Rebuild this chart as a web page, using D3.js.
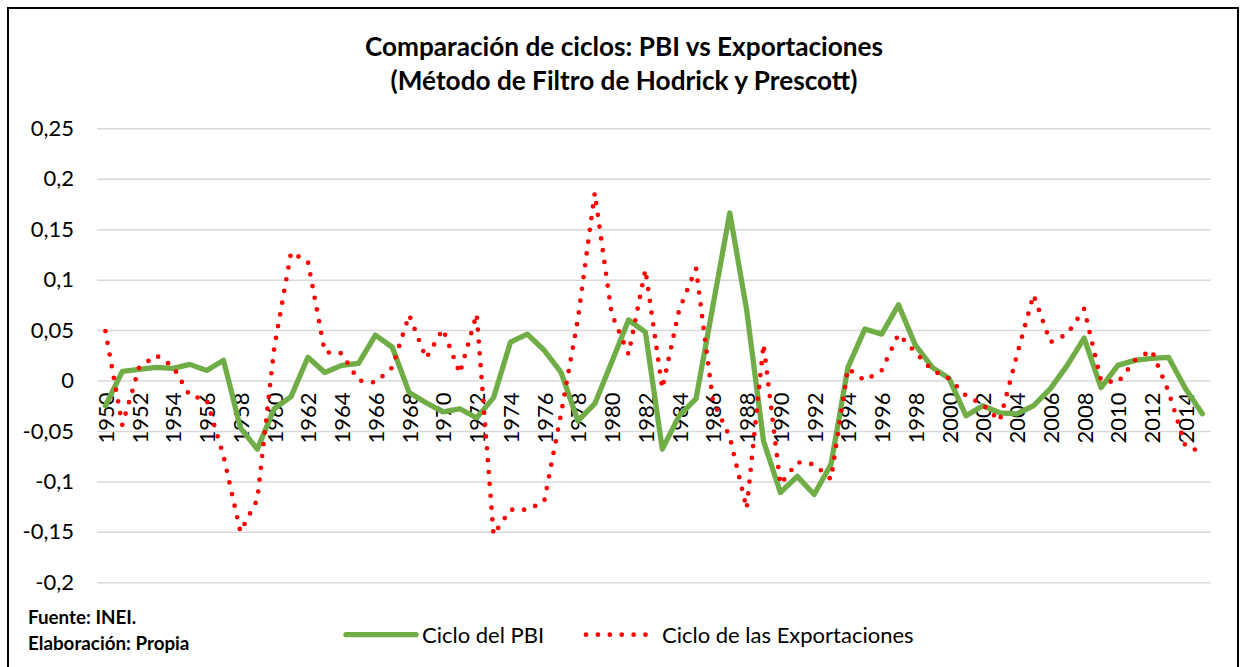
<!DOCTYPE html>
<html>
<head>
<meta charset="utf-8">
<script src="https://cdn.jsdelivr.net/npm/d3@7"></script>
<style>
  body { margin: 0; background: #fff; }
  svg { display: block; font-family: Lato, "Open Sans", sans-serif; }
</style>
</head>
<body>
<svg id="chart"></svg>
<script>
const WIDTH = 1242;
const HEIGHT = 667;
const PLOT = { left: 97, right: 1210.7, top: 128.3, bottom: 582.3 };

// years 1950..2015
const years = [
  1950, 1951, 1952, 1953, 1954, 1955, 1956, 1957, 1958, 1959,
  1960, 1961, 1962, 1963, 1964, 1965, 1966, 1967, 1968, 1969,
  1970, 1971, 1972, 1973, 1974, 1975, 1976, 1977, 1978, 1979,
  1980, 1981, 1982, 1983, 1984, 1985, 1986, 1987, 1988, 1989,
  1990, 1991, 1992, 1993, 1994, 1995, 1996, 1997, 1998, 1999,
  2000, 2001, 2002, 2003, 2004, 2005, 2006, 2007, 2008, 2009,
  2010, 2011, 2012, 2013, 2014, 2015
];

// Ciclo del PBI
const cicloPBI = [
  -0.025, 0.009, 0.011, 0.013, 0.012, 0.016, 0.010, 0.020, -0.047, -0.068,
  -0.028, -0.016, 0.023, 0.008, 0.015, 0.017, 0.045, 0.033, -0.012, -0.022,
  -0.031, -0.028, -0.037, -0.017, 0.038, 0.046, 0.030, 0.008, -0.040, -0.023,
  0.018, 0.060, 0.048, -0.068, -0.035, -0.018, 0.074, 0.166, 0.070, -0.060,
  -0.111, -0.095, -0.113, -0.083, 0.013, 0.051, 0.046, 0.075, 0.035, 0.013,
  0.002, -0.035, -0.025, -0.032, -0.033, -0.025, -0.008, 0.015, 0.042, -0.007,
  0.015, 0.020, 0.022, 0.023, -0.008, -0.033
];

// Ciclo de las Exportaciones
const cicloExport = [
  0.049, -0.044, 0.013, 0.025, 0.014, -0.015, -0.019, -0.075, -0.150, -0.118,
  0.032, 0.127, 0.118, 0.028, 0.027, 0.000, -0.002, 0.013, 0.065, 0.022,
  0.051, 0.007, 0.066, -0.153, -0.128, -0.128, -0.120, -0.033, 0.061, 0.186,
  0.066, 0.026, 0.110, -0.008, 0.070, 0.111, -0.020, -0.056, -0.127, 0.036,
  -0.103, -0.081, -0.083, -0.098, 0.012, 0.000, 0.010, 0.046, 0.028, 0.010,
  0.002, -0.015, -0.024, -0.040, 0.024, 0.085, 0.038, 0.046, 0.071, 0.000,
  -0.002, 0.020, 0.030, -0.011, -0.065, -0.071
];

const yTicks = [-0.2, -0.15, -0.1, -0.05, 0, 0.05, 0.1, 0.15, 0.2, 0.25];
const xLabelYears = years.filter(y => (y - 1950) % 2 === 0 && y <= 2014);

const titleLines = [
  "Comparación de ciclos: PBI vs Exportaciones",
  "(Método de Filtro de Hodrick y Prescott)"
];
const seriesNames = ["Ciclo del PBI", "Ciclo de las Exportaciones"];
const footerLines = ["Fuente: INEI.", "Elaboración: Propia"];

const GREEN = "#70ad47";
const RED = "#ff0000";

const svg = d3.select("#chart")
  .attr("width", WIDTH)
  .attr("height", HEIGHT);

svg.append("rect")
  .attr("width", WIDTH).attr("height", HEIGHT)
  .attr("fill", "#fff");

// outer frame
svg.append("rect")
  .attr("x", 8).attr("y", 8)
  .attr("width", 1230).attr("height", 700)
  .attr("fill", "none")
  .attr("stroke", "#000")
  .attr("stroke-width", 2);

const x = d3.scalePoint()
  .domain(years)
  .range([PLOT.left, PLOT.right])
  .padding(0.5);

const y = d3.scaleLinear()
  .domain([-0.2, 0.25])
  .range([PLOT.bottom, PLOT.top]);

// y axis + gridlines
const yAxis = svg.append("g")
  .attr("transform", `translate(${PLOT.left},0)`)
  .call(d3.axisLeft(y)
    .tickValues(yTicks)
    .tickSize(-(PLOT.right - PLOT.left))
    .tickPadding(23)
    .tickFormat(d => String(d).replace(".", ",")));

yAxis.select(".domain").remove();
yAxis.selectAll(".tick line")
  .attr("stroke", "#d9d9d9")
  .attr("stroke-width", 1.5);
yAxis.selectAll(".tick text")
  .attr("font-family", "Lato, sans-serif")
  .attr("font-size", 22)
  .attr("fill", "#000");

// x axis labels (rotated, at the zero line)
const xAxis = svg.append("g")
  .attr("transform", `translate(0,${y(0)})`)
  .call(d3.axisBottom(x)
    .tickValues(xLabelYears)
    .tickSize(0));

xAxis.select(".domain").remove();
xAxis.selectAll(".tick text")
  .attr("transform", "rotate(-90)")
  .attr("text-anchor", "end")
  .attr("x", -12)
  .attr("y", 0)
  .attr("dy", "0.36em")
  .attr("font-family", "Lato, sans-serif")
  .attr("font-size", 22)
  .attr("fill", "#000");

// lines
const pbiData = years.map((yr, i) => ({ year: yr, v: cicloPBI[i] }));
const expData = years.map((yr, i) => ({ year: yr, v: cicloExport[i] }));

const line = d3.line()
  .x(d => x(d.year))
  .y(d => y(d.v));

svg.append("path")
  .datum(pbiData)
  .attr("d", line)
  .attr("fill", "none")
  .attr("stroke", GREEN)
  .attr("stroke-width", 5.3)
  .attr("stroke-linejoin", "round")
  .attr("stroke-linecap", "round");

svg.append("path")
  .datum(expData)
  .attr("d", line)
  .attr("fill", "none")
  .attr("stroke", RED)
  .attr("stroke-width", 4.7)
  .attr("stroke-dasharray", "0 11.9")
  .attr("stroke-linecap", "round");

// title
svg.append("g")
  .selectAll("text")
  .data(titleLines)
  .enter()
  .append("text")
  .attr("x", 624)
  .attr("y", (d, i) => 56 + i * 34)
  .attr("text-anchor", "middle")
  .attr("font-family", "Lato, sans-serif")
  .attr("font-weight", "bold")
  .attr("font-size", 26.2)
  .attr("fill", "#000")
  .text(d => d);

// legend
const legend = svg.append("g").attr("class", "legend");
const legendY = 634.7;

legend.append("line")
  .attr("x1", 346).attr("x2", 416)
  .attr("y1", legendY).attr("y2", legendY)
  .attr("stroke", GREEN)
  .attr("stroke-width", 5.3)
  .attr("stroke-linecap", "round");

legend.append("line")
  .attr("x1", 586).attr("x2", 648)
  .attr("y1", legendY).attr("y2", legendY)
  .attr("stroke", RED)
  .attr("stroke-width", 4.7)
  .attr("stroke-dasharray", "0 11.9")
  .attr("stroke-linecap", "round");

legend.selectAll("text")
  .data(seriesNames)
  .enter()
  .append("text")
  .attr("x", (d, i) => i === 0 ? 422 : 662)
  .attr("y", 642.5)
  .attr("font-family", "Lato, sans-serif")
  .attr("font-size", 22)
  .attr("fill", "#000")
  .text(d => d);

// source note
svg.append("g")
  .selectAll("text")
  .data(footerLines)
  .enter()
  .append("text")
  .attr("x", 28)
  .attr("y", (d, i) => 624 + i * 26)
  .attr("font-family", "Lato, sans-serif")
  .attr("font-weight", "bold")
  .attr("font-size", 18.8)
  .attr("fill", "#000")
  .text(d => d);
</script>
</body>
</html>
